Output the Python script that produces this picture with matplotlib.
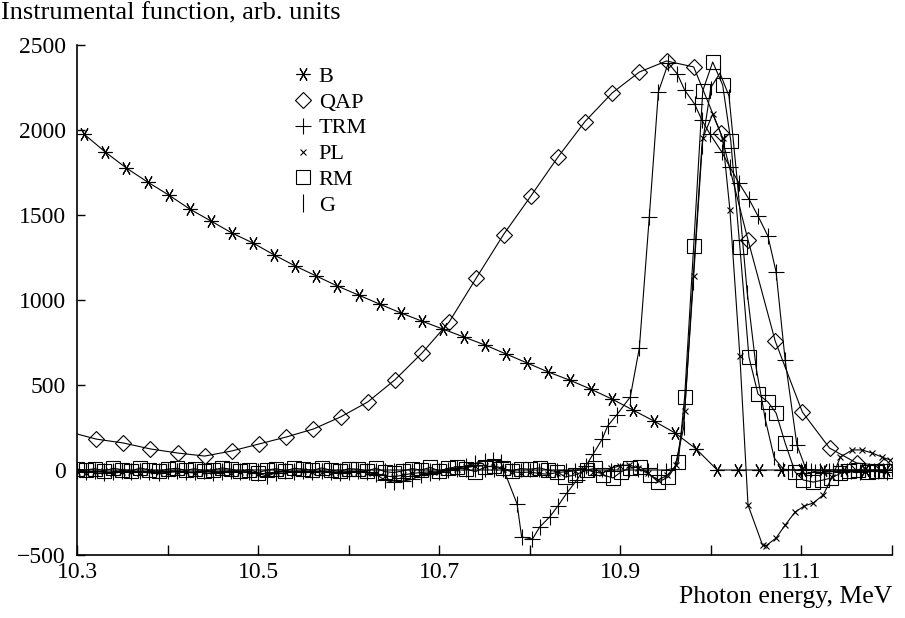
import numpy as np
import matplotlib
matplotlib.use("Agg")
import matplotlib.pyplot as plt
from matplotlib.lines import Line2D

plt.rcParams['font.family'] = ['Liberation Serif', 'DejaVu Serif']

# ---------------- data ----------------
# B (asterisks)
b_energy = np.round(10.308 + 0.0233 * np.arange(39), 4)
b_values = [1975, 1870, 1776, 1694, 1618, 1535, 1465, 1394, 1335, 1265,
            1200, 1141, 1082, 1029, 976, 924, 876, 829, 782, 735,
            682, 629, 576, 529, 476, 418, 353, 288, 218, 124,
            0, 0, 0, 0, 0, 0, 0, 0, 0]

# QAP (diamonds); first point (10.30) has no marker
qap_energy = [10.30] + list(np.round(10.321 + 0.03 * np.arange(30), 3))
qap_values = [212, 182, 159, 124, 100, 82, 112, 153, 194, 241,
              312, 400, 530, 688, 871, 1130, 1385, 1610, 1840, 2050,
              2218, 2341, 2406, 2371, 1980, 1353, 759, 341, 129, 41, 25]

# TRM (plus)
trm_energy = list(np.round(np.arange(10.30, 10.755, 0.01), 2)) + [
    10.759, 10.768, 10.786, 10.791, 10.803, 10.811, 10.822, 10.831, 10.841, 10.852,
    10.862, 10.870, 10.880, 10.886, 10.896, 10.911, 10.921, 10.932, 10.942, 10.953,
    10.963, 10.971, 10.982, 10.990, 10.999, 11.012, 11.021, 11.031, 11.042, 11.052,
    11.063, 11.072, 11.082, 11.095, 11.105, 11.115, 11.125, 11.135, 11.145, 11.155,
    11.165, 11.175, 11.185, 11.195]
trm_values = [-5, -12, -8, -15, -10, -5, -12, -8, -10, -15,
              -8, -5, -10, -12, -8, -15, -10, -5, -12, -10,
              -20, -35, -15, -8, -10, -5, -12, -8, -10, -15,
              -10, -8, -12, -25, -60, -72, -65, -55, -30, -15,
              -10, 0, 12, 25, 40, 52,
              59, 45, -200, -394, -406, -335, -276, -212, -135, -59,
              24, 94, 182, 259, 324, 430, 718, 1490, 2224, 2394,
              2329, 2235, 2153, 2059, 1976, 1871, 1782, 1688, 1594, 1494,
              1376, 1165, 647, 147, 5, -10, -15, -8, -12, -5,
              -10, -8, -5, -10]

# PL (small crosses)
pl_energy = list(np.round(np.arange(10.30, 10.935, 0.01), 2)) + [
    10.942, 10.952, 10.962, 10.971, 10.981, 10.991, 11.002, 11.013, 11.021, 11.032,
    11.041, 11.057, 11.061, 11.072, 11.082, 11.093, 11.103, 11.113, 11.124, 11.134,
    11.143, 11.156, 11.167, 11.178, 11.189, 11.198]
pl_values = [-10, -15, -12, -8, -18, -12, -10, -15, -8, -12,
             -15, -10, -12, -18, -10, -8, -12, -15, -10, -12,
             -25, -18, -12, -10, -15, -8, -12, -10, -15, -12,
             -10, -12, -15, -20, -35, -40, -30, -20, -15, -10,
             -12, -5, 5, 15, 22, 25, 18, 5, -10, -15,
             -12, -20, -25, -15, -10, -5, 5, -10, -20, 10,
             25, 30, 10, -20,
             -59, -30, 29, 347, 1141, 1953, 2094, 1953, 1529, 671,
             -206, -441, -445, -400, -324, -247, -212, -194, -147, -41,
             76, 118, 118, 100, 76, 59]

# RM (squares)
rm_energy = list(np.round(np.arange(10.30, 10.805, 0.01), 2)) + [
    10.811, 10.820, 10.830, 10.839, 10.850, 10.863, 10.872, 10.881, 10.892, 10.901,
    10.911, 10.922, 10.933, 10.942, 10.953, 10.964, 10.971, 10.981, 10.991, 11.002,
    11.013, 11.022, 11.032, 11.042, 11.052, 11.063, 11.072, 11.082, 11.093, 11.102,
    11.113, 11.123, 11.133, 11.143, 11.153, 11.163, 11.173, 11.183, 11.193]
rm_values = [5, 0, 8, -5, 10, 2, -5, 12, 0, -8,
             5, 10, -2, 8, -5, 0, 12, 5, -8, 2,
             -15, 0, 8, -5, 10, 5, -2, 12, 0, -8,
             8, 5, -5, 10, -10, -15, -5, 8, 0, 15,
             -5, 10, 20, 5, -10, 15, 25, 10, -5, 8,
             5,
             12, 0, -10, -41, -29, 0, 10, -29, -47, -10,
             12, 18, -29, -71, -41, 47, 429, 1318, 2230, 2400,
             2265, 1935, 1312, 665, 447, 400, 335, 159, -12, -59,
             -71, -60, -47, -20, -5, 0, -10, -5, -8]

# G (vertical bars)
g_energy = list(np.round(np.arange(10.30, 11.205, 0.01), 2))
g_values = [0, 0, 0, 0, 0, 0, 0, 0, 0, 0,
            0, 0, 0, 0, 0, 0, 0, 0, 0, 0,
            0, 0, 0, 0, 0, 0, 0, 0, 0, 0,
            0, 0, 0, 0, 0, 0, 0, 0, 0, 0,
            0, 0, 0, 0, 0, 0, 0, 0, 0, 0,
            0, 0, 0, 0, 0, 0, 0, 0, 0, 0,
            0, 0, 0, 0, 0, 0,
            10, 250, 1100, 1900, 2250, 2335, 2200, 1650, 1050, 600,
            300, 70, 5,
            0, 0, 0, 0, 0, 0, 0, 0, 0, 0, 0, 0]

x_ticks = [10.3, 10.4, 10.5, 10.6, 10.7, 10.8, 10.9, 11.0, 11.1, 11.2]
x_tick_labels = ['10.3', '', '10.5', '', '10.7', '', '10.9', '', '11.1', '']
y_ticks = [-500, 0, 500, 1000, 1500, 2000, 2500]
y_tick_labels = ['\u2212500', '0', '500', '1000', '1500', '2000', '2500']

# ---------------- figure ----------------
W, H = 905, 618
fig = plt.figure(figsize=(W / 100, H / 100), dpi=100)
ax = fig.add_axes([77 / W, (H - 555) / H, 815 / W, 510 / H])

lw = 0.8
mew = 0.8
common = dict(color='black', lw=lw, mew=mew, mfc='none', mec='black')

series = [
    ('B', b_energy, b_values, dict(marker=(6, 2, 90), ms=10)),
    ('QAP', qap_energy, qap_values, dict(marker='D', ms=8, markevery=slice(1, None))),
    ('TRM', trm_energy, trm_values, dict(marker='+', ms=11)),
    ('PL', pl_energy, pl_values, dict(marker='x', ms=4.5)),
    ('RM', rm_energy, rm_values, dict(marker='s', ms=10.5)),
    ('G', g_energy, g_values, dict(marker='|', ms=10)),
]
handles = []
for name, xs, ys, st in series:
    ax.plot(xs, ys, **common, **st)
    st2 = {k: v for k, v in st.items() if k != 'markevery'}
    if name == 'G':
        st2['ms'] = 13
    handles.append(Line2D([], [], linestyle='none', color='black', mew=mew,
                          mfc='none', mec='black', **st2))

ax.set_xlim(10.3, 11.2)
ax.set_ylim(-500, 2500)
for s in ['top', 'right']:
    ax.spines[s].set_visible(False)
for s in ['left', 'bottom']:
    ax.spines[s].set_linewidth(1.2)

ax.set_xticks(x_ticks)
ax.set_xticklabels(x_tick_labels)
ax.set_yticks(y_ticks)
ax.set_yticklabels(y_tick_labels)
ax.tick_params(axis='x', direction='in', length=7, width=1.0, labelsize=17, pad=5)
ax.tick_params(axis='y', direction='in', length=6, width=1.0, labelsize=17, pad=8)

leg = fig.legend(handles, [s[0] for s in series], loc='upper left',
                 bbox_to_anchor=(281 / W, 1 - 55 / H), frameon=False,
                 fontsize=16, handlelength=1.0, handletextpad=0.2,
                 labelspacing=0.24, borderpad=0)

fig.text(1 / W, 1 - 13 / H, 'Instrumental function, arb. units',
         ha='left', va='center', fontsize=19)
fig.text(892 / W, 1 - 597 / H, 'Photon energy, MeV',
         ha='right', va='center', fontsize=18.5)

fig.savefig('out.png', dpi=100)
